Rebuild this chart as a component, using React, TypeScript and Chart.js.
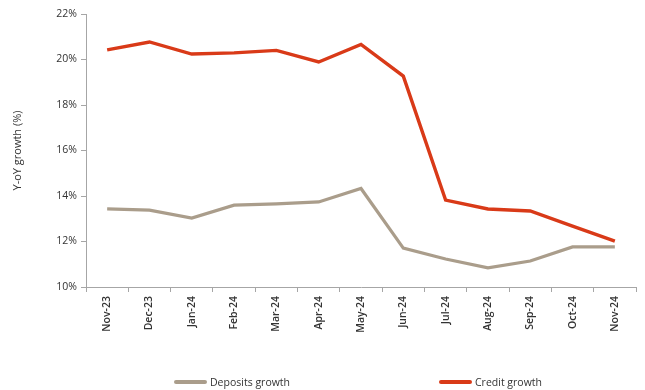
import React, { useEffect, useRef } from "react";
import { Chart, registerables } from "chart.js";

Chart.register(...registerables);

const categories = ["Nov-23", "Dec-23", "Jan-24", "Feb-24", "Mar-24", "Apr-24", "May-24", "Jun-24", "Jul-24", "Aug-24", "Sep-24", "Oct-24", "Nov-24"];
const depositsGrowth = [13.43, 13.38, 13.03, 13.6, 13.65, 13.74, 14.33, 11.71, 11.23, 10.84, 11.14, 11.76, 11.76];
const creditGrowth = [20.42, 20.77, 20.24, 20.29, 20.4, 19.89, 20.66, 19.27, 13.82, 13.43, 13.34, 12.68, 12.02];
const yTicks = [10, 12, 14, 16, 18, 20, 22];

const depositsColor = "#AA9D8B";
const creditColor = "#D93A18";
const axisColor = "#A6A6A6";
const textColor = "#333333";
const fontFamily = "'Open Sans', 'Noto Sans', sans-serif";

export default function App() {
  const ref = useRef<HTMLCanvasElement | null>(null);
  useEffect(() => {
    if (!ref.current) return;
    const chart = new Chart(ref.current, {
      type: "line",
      data: {
        labels: categories,
        datasets: [
          { label: "Deposits growth", data: depositsGrowth, borderColor: depositsColor, backgroundColor: depositsColor, borderWidth: 3.2, pointRadius: 0, tension: 0 },
          { label: "Credit growth", data: creditGrowth, borderColor: creditColor, backgroundColor: creditColor, borderWidth: 3.4, pointRadius: 0, tension: 0 },
        ],
      },
      options: {
        animation: false,
        responsive: false,
        maintainAspectRatio: false,
        layout: { padding: { top: 14, right: 9, left: 0, bottom: 0 } },
        plugins: { legend: { display: false }, tooltip: { enabled: false } },
        scales: {
          x: {
            type: "category",
            offset: true,
            grid: { display: true, offset: true, drawOnChartArea: false, drawTicks: true, tickLength: 5, color: axisColor },
            border: { display: true, color: axisColor, width: 1 },
            ticks: { minRotation: 90, maxRotation: 90, autoSkip: false, color: textColor, font: { family: fontFamily, size: 10.5, weight: 600 }, padding: 4 },
            afterFit: (s: any) => { s.height = 103; },
          },
          y: {
            min: 10,
            max: 22,
            afterBuildTicks: (s: any) => { s.ticks = yTicks.map((v) => ({ value: v })); },
            grid: { display: true, drawOnChartArea: false, drawTicks: true, tickLength: 5, color: axisColor },
            border: { display: true, color: axisColor, width: 1 },
            ticks: { color: textColor, font: { family: fontFamily, size: 10.5, weight: 500 }, padding: 4, callback: (v: any) => v + "%" },
            title: { display: true, text: "Y-oY growth (%)", color: textColor, font: { family: fontFamily, size: 11, weight: 500 }, padding: { top: 11, bottom: 4 } },
            afterFit: (s: any) => { s.width = 86; },
          },
        },
      },
    });
    return () => chart.destroy();
  }, []);

  const legendItem = (color: string, label: string, left: number) => (
    <div style={{ position: "absolute", left, top: 375, display: "flex", alignItems: "center", fontFamily, fontSize: 10.5, color: textColor, fontWeight: 500 }}>
      <span style={{ display: "inline-block", width: 33, height: 4, borderRadius: 2, background: color, marginRight: 3 }} />
      <span>{label}</span>
    </div>
  );

  return (
    <div style={{ position: "fixed", left: 0, top: 0, width: 645, height: 390, background: "#fff" }}>
      <canvas ref={ref} width={645} height={390} style={{ position: "absolute", left: 0, top: 0 }} />
      {legendItem(depositsColor, "Deposits growth", 174)}
      {legendItem(creditColor, "Credit growth", 439)}
    </div>
  );
}
